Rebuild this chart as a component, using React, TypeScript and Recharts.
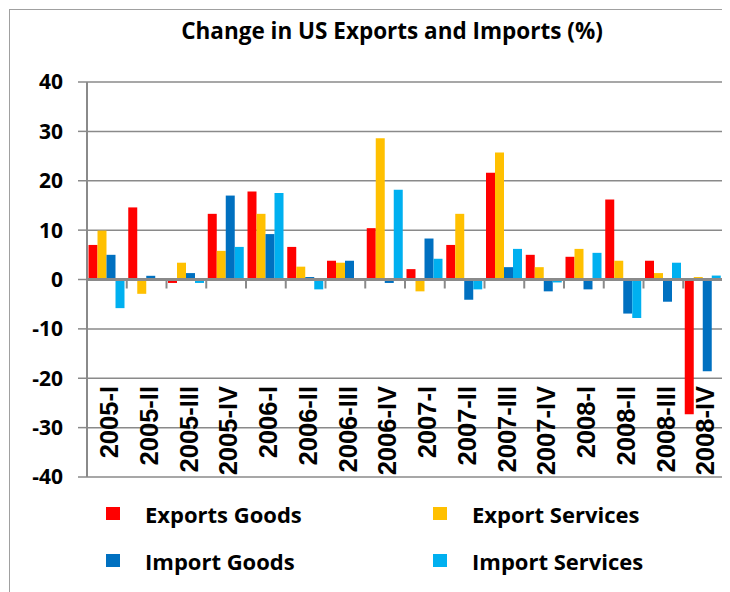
import React from "react";
import { BarChart, Bar, CartesianGrid, XAxis, YAxis, Legend, ReferenceLine } from "recharts";

const categories = [
  "2005-I", "2005-II", "2005-III", "2005-IV",
  "2006-I", "2006-II", "2006-III", "2006-IV",
  "2007-I", "2007-II", "2007-III", "2007-IV",
  "2008-I", "2008-II", "2008-III", "2008-IV",
];
const exportsGoods = [7.0, 14.6, -0.7, 13.3, 17.8, 6.6, 3.8, 10.4, 2.1, 7.0, 21.6, 5.0, 4.6, 16.2, 3.8, -27.3];
const exportServices = [9.9, -2.9, 3.4, 5.8, 13.3, 2.6, 3.4, 28.6, -2.4, 13.3, 25.7, 2.5, 6.2, 3.8, 1.3, 0.5];
const importGoods = [5.0, 0.75, 1.3, 17.0, 9.2, 0.5, 3.8, -0.7, 8.3, -4.1, 2.5, -2.4, -2.0, -6.9, -4.5, -18.6];
const importServices = [-5.8, 0, -0.7, 6.6, 17.5, -2.0, 0, 18.2, 4.2, -2.0, 6.2, -0.6, 5.4, -7.8, 3.4, 0.8];
const seriesNames = ["Exports Goods", "Export Services", "Import Goods", "Import Services"];
const yTicks = [-40, -30, -20, -10, 0, 10, 20, 30, 40];

const W = 720;
const H = 582;
const MARGIN = { top: 72, right: 7, left: 0, bottom: 114 };
const Y_AXIS_W = 77;
const PLOT_H = H - MARGIN.top - MARGIN.bottom - 1;
const PLOT_W = W - MARGIN.left - MARGIN.right - Y_AXIS_W;
const ZERO_Y = MARGIN.top + PLOT_H / 2;
const BAND = PLOT_W / categories.length;

const GRAY = "#8a8a8a";
const CALIBRI = "'Open Sans', 'Lato', sans-serif";

const data = categories.map((c, i) => ({
  quarter: c,
  exportsGoods: exportsGoods[i],
  exportServices: exportServices[i],
  importGoods: importGoods[i],
  importServices: importServices[i],
}));

// quarter label sits rotated at the bottom of the plot, tick mark hangs off the zero line
function QuarterTick(props: any) {
  const { x, payload, index } = props;
  const left = x - BAND / 2;
  const bottom = MARGIN.top + PLOT_H;
  return (
    <g>
      <line x1={left} x2={left} y1={ZERO_Y} y2={ZERO_Y + 9} stroke={GRAY} strokeWidth={2} />
      {index === categories.length - 1 && (
        <line x1={left + BAND} x2={left + BAND} y1={ZERO_Y} y2={ZERO_Y + 9} stroke={GRAY} strokeWidth={2} />
      )}
      <text
        transform={`translate(${x + 2},${bottom - 91}) rotate(-90)`}
        textAnchor="end"
        dy="0.36em"
        fontFamily="'Liberation Sans', Arial, sans-serif"
        fontWeight="bold"
        fontSize={25.5}
        fill="#000"
      >
        {payload.value}
      </text>
    </g>
  );
}

function LegendGrid({ payload }: any) {
  const items = [...(payload || [])].sort(
    (a: any, b: any) => seriesNames.indexOf(a.value) - seriesNames.indexOf(b.value)
  );
  return (
    <div
      style={{
        display: "grid",
        gridTemplateColumns: "327px 280px",
        gridAutoRows: "47px",
        paddingLeft: 96,
        fontFamily: CALIBRI,
        fontWeight: 700,
        fontSize: 22,
        color: "#000",
      }}
    >
      {items.map((p: any) => (
        <div key={p.value} style={{ display: "flex", alignItems: "center" }}>
          <span style={{ width: 14, height: 13, background: p.color, marginRight: 25, display: "inline-block" }} />
          <span>{p.value}</span>
        </div>
      ))}
    </div>
  );
}

export default function App() {
  return (
    <div
      style={{
        position: "relative",
        margin: "1px 0 0 1px",
        width: W,
        height: H,
        borderLeft: "1px solid #a0a0a0",
        borderTop: "1px solid #a0a0a0",
      }}
    >
      <div
        style={{
          position: "absolute",
          left: 382,
          top: 7,
          transform: "translateX(-50%)",
          whiteSpace: "nowrap",
          fontFamily: CALIBRI,
          fontWeight: 700,
          fontSize: 22.5,
          lineHeight: "28px",
          color: "#000",
          zIndex: 1,
        }}
      >
        Change in US Exports and Imports (%)
      </div>
      <BarChart width={W} height={H} data={data} margin={MARGIN} barGap={0} barCategoryGap={1.5}>
        <CartesianGrid vertical={false} stroke={GRAY} strokeWidth={1.5} />
        <XAxis
          dataKey="quarter"
          height={1}
          axisLine={false}
          tickLine={false}
          interval={0}
          tick={<QuarterTick />}
        />
        <YAxis
          domain={[-40, 40]}
          ticks={yTicks}
          width={Y_AXIS_W}
          interval={0}
          axisLine={{ stroke: GRAY, strokeWidth: 2 }}
          tickLine={{ stroke: GRAY, strokeWidth: 1.5 }}
          tickSize={9}
          tickMargin={15}
          tick={{ fill: "#000", fontFamily: CALIBRI, fontWeight: 700, fontSize: 21 }}
        />
        <Bar dataKey="exportsGoods" name={seriesNames[0]} fill="#FF0000" isAnimationActive={false} />
        <Bar dataKey="exportServices" name={seriesNames[1]} fill="#FFC000" isAnimationActive={false} />
        <Bar dataKey="importGoods" name={seriesNames[2]} fill="#0070C0" isAnimationActive={false} />
        <Bar dataKey="importServices" name={seriesNames[3]} fill="#00B0F0" isAnimationActive={false} />
        <ReferenceLine y={0} stroke={GRAY} strokeWidth={3} />
        <Legend
          layout="horizontal"
          verticalAlign="middle"
          align="center"
          wrapperStyle={{ left: 0, top: 480, width: W }}
          content={<LegendGrid />}
        />
      </BarChart>
    </div>
  );
}
